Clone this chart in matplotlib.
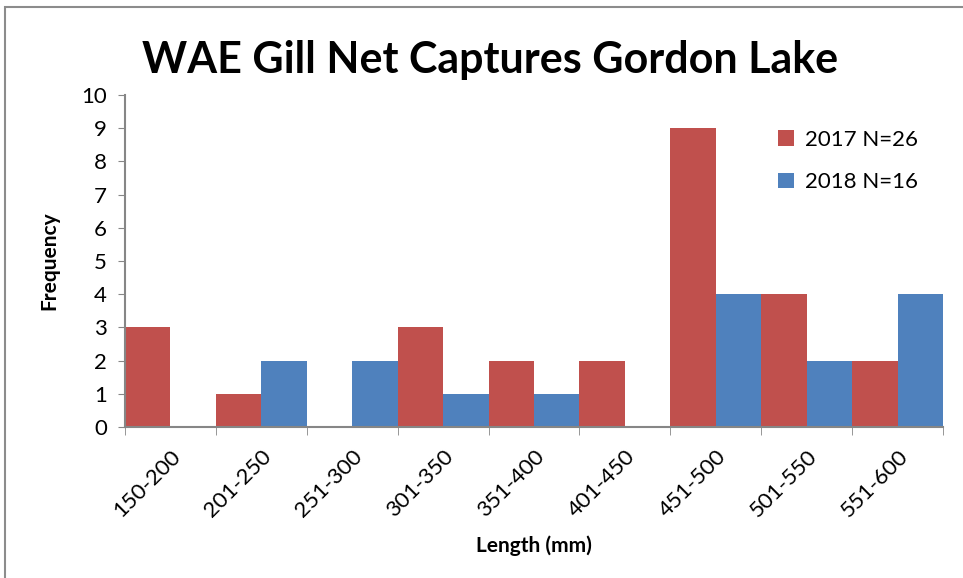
import matplotlib
matplotlib.use("Agg")
from matplotlib import pyplot as plt
from matplotlib.patches import Rectangle
import numpy as np

categories = ["150-200", "201-250", "251-300", "301-350", "351-400",
              "401-450", "451-500", "501-550", "551-600"]
counts_2017 = [3, 1, 0, 3, 2, 2, 9, 4, 2]
counts_2018 = [0, 2, 2, 1, 1, 0, 4, 2, 4]
labels = ["2017 N=26", "2018 N=16"]

plt.rcParams["font.family"] = ["Lato", "DejaVu Sans"]

fig = plt.figure(figsize=(9.63, 5.78), dpi=100)
ax = fig.add_axes([125 / 963, 1 - 427 / 578, 818 / 963, 332 / 578])

# outer frame of the chart area
fig.patches.append(Rectangle((5 / 963, -0.05), 1.1, 1 - 7 / 578 + 0.05,
                             transform=fig.transFigure, fill=False,
                             edgecolor="#8c8c8c", linewidth=1.5))

x = np.arange(len(categories))
w = 0.5
ax.bar(x - w / 2, counts_2017, width=w, color="#C0504D", label=labels[0])
ax.bar(x + w / 2, counts_2018, width=w, color="#4F81BD", label=labels[1])

ax.set_xlim(-0.5, len(categories) - 0.5)
ax.set_ylim(0, 10)
ax.set_yticks(range(0, 11))
ax.tick_params(axis="y", direction="out", length=5, color="#868686",
               labelsize=16, pad=8)

ax.set_xticks(x)
ax.set_xticklabels(categories, rotation=45, ha="right", rotation_mode="anchor",
                   fontsize=16)
ax.set_xticks(np.arange(-0.5, len(categories)), minor=True)
ax.tick_params(axis="x", which="major", length=0, pad=14)
ax.tick_params(axis="x", which="minor", direction="out", length=6, color="#868686")

for side in ["top", "right"]:
    ax.spines[side].set_visible(False)
for side in ["left", "bottom"]:
    ax.spines[side].set_color("#868686")
    ax.spines[side].set_linewidth(1.5)

ax.set_ylabel("Frequency", fontsize=15, fontweight="bold", labelpad=16)
ax.set_xlabel("Length (mm)", fontsize=15, fontweight="bold", labelpad=10)
fig.text(490 / 963, 1 - 60 / 578, "WAE Gill Net Captures Gordon Lake",
         ha="center", va="center", fontsize=31, fontweight="bold")

fig.legend(loc="upper left", bbox_to_anchor=(758 / 963, 1 - 110 / 578),
           frameon=False, fontsize=16, handlelength=0.7, handleheight=0.7,
           handletextpad=0.5, labelspacing=1.0)

fig.savefig("out.png", dpi=100)
